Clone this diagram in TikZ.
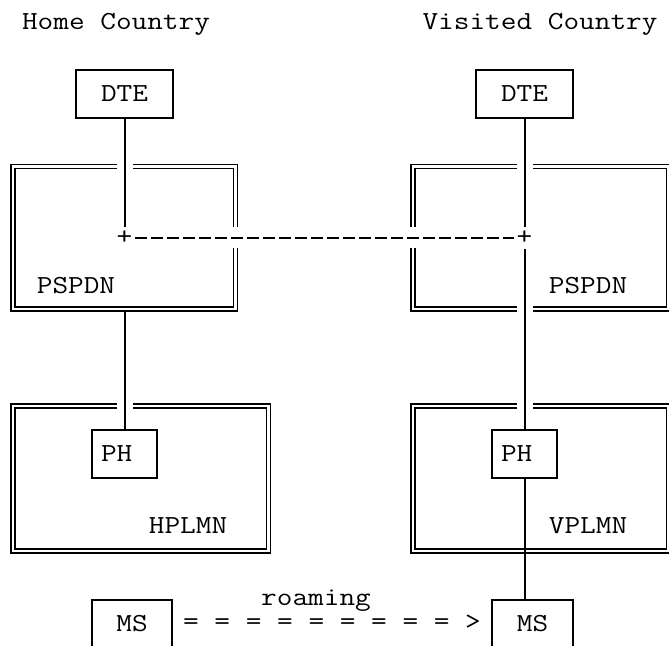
\documentclass[tikz,border=0pt]{standalone}
\usepackage{graphicx}
\newcommand\wide[1]{\scalebox{1.17}[1]{#1}}

\begin{document}
\begin{tikzpicture}[x=1pt, y=-1pt,
        font=\fontsize{26}{30}\selectfont\ttfamily,
        wire/.style={line width=2pt},
        net/.style={double, line width=1.5pt, double distance=2.4pt},
        ascbox/.style={draw, line width=2pt, minimum height=48pt, inner sep=0pt},
        lbl/.style={anchor=base, inner sep=0pt},
        joint/.style={minimum size=21pt, inner sep=0pt}
    ]
    \path[use as bounding box, fill=white] (0,0) rectangle (669,645);

    \def\xh{124.5}
    \def\xv{524.5}

    % headings
    \node[lbl] (home) at (116,29) {\wide{Home Country}};
    \node[lbl] (visited) at (540,29) {\wide{Visited Country}};

    % networks, drawn with gaps where the lines go through
    \draw[net] (117,166.5) -- (13,166.5) -- (13,309) -- (235.5,309) -- (235.5,248);
    \draw[net] (133,166.5) -- (235.5,166.5) -- (235.5,227);
    \draw[net] (517,166.5) -- (413,166.5) -- (413,227);
    \draw[net] (413,248) -- (413,309) -- (517,309);
    \draw[net] (533,166.5) -- (668.5,166.5) -- (668.5,309) -- (533,309);
    \draw[net] (117,406) -- (13,406) -- (13,551) -- (268.5,551) -- (268.5,406) -- (133,406);
    \draw[net] (517,406) -- (413,406) -- (413,551) -- (668.5,551) -- (668.5,406) -- (533,406);

    \node[lbl] (pspdnH) at (76,293) {\wide{PSPDN}};
    \node[lbl] (pspdnV) at (588,293) {\wide{PSPDN}};
    \node[lbl] (hplmn) at (188,533) {\wide{HPLMN}};
    \node[lbl] (vplmn) at (588,533) {\wide{VPLMN}};

    \foreach \x/\s in {\xh/H,\xv/V}{
        \node[ascbox, minimum width=97pt] (dte\s) at (\x,94) {\wide{DTE}};
        \node[ascbox, minimum width=65pt] (ph\s) at (\x,454) {\wide{PH\hphantom{H}}};
        \node[joint] (plus\s) at (\x,238) {\wide{+}};
    }
    \node[ascbox, minimum width=80pt, anchor=north] (msH) at (132,599) {\wide{MS}};
    \node[ascbox, minimum width=81pt, anchor=north] (msV) at (532.5,599) {\wide{MS}};

    \node[lbl] (roaming) at (316,605) {\wide{roaming}};
    \node[lbl] (move) at (332,629) {\wide{= = = = = = = = = >}};

    % links
    \coordinate (hpsOut) at (\xh,311);
    \draw[wire] (dteH) -- (plusH);
    \draw[wire] (hpsOut) -- (phH);
    \draw[wire] (dteV) -- (plusV) -- (phV);
    \draw[wire] (phV) -- (phV |- msV.north);
    \draw[wire, dash pattern=on 12pt off 4pt] (plusH) -- (plusV);
\end{tikzpicture}
\end{document}
